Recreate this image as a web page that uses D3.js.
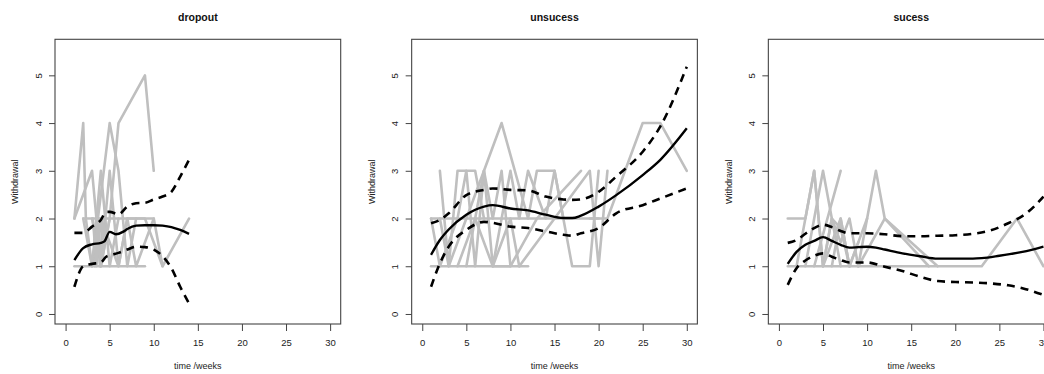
<!DOCTYPE html>
<html><head><meta charset="utf-8">
<script src="https://cdn.jsdelivr.net/npm/d3@7"></script>
<style>body{margin:0;background:#fff}svg{display:block}text{font-family:"Liberation Sans",Arial,Helvetica,sans-serif}</style>
</head><body><svg id="c" width="1044" height="374"></svg>
<script>
const panelTitles = ["dropout", "unsucess", "sucess"];
const xTicks = [0, 5, 10, 15, 20, 25, 30];
const yTicks = [0, 1, 2, 3, 4, 5];
const xLabel = "time /weeks";
const yLabel = "Withdrawal";

// ---- dropout ----
const dropoutSubjects = [
  [[1,2],[2,4],[2.3,2],[3,1]],
  [[1,2],[3,3],[4,1],[5,2]],
  [[2,2],[3,1],[4,3],[5,1],[6,2]],
  [[1,1],[9,1]],
  [[3,1],[5,4],[6,3],[7,1],[8,2],[9,2],[11,1],[14,2]],
  [[4,1],[5,2],[6,4],[9,5],[10,3]],
  [[2,2],[10,2],[11,1]],
  [[3,2],[4,1],[5,3],[6,1],[7,2],[8,1],[10,2]],
  [[3.3,1],[3.6,2],[3.9,1],[4.2,2]],
  [[3.1,2],[3.5,1],[4,2],[6,1],[7,2],[8,2]]
];
const dropoutMeanT = [1,2,3,4,4.4,5,5.7,6.5,7,8,9,10,11,12,13,14];
const dropoutMean  = [1.13,1.38,1.46,1.49,1.52,1.72,1.67,1.72,1.78,1.85,1.86,1.86,1.85,1.82,1.76,1.68];
const dropoutBandT = [1,2,3,4,4.6,5,6,7,8,9,10,11,12,13,14];
const dropoutUpper = [1.70,1.70,1.83,1.97,2.14,2.14,2.09,2.25,2.32,2.33,2.40,2.46,2.56,2.88,3.23];
const dropoutLower = [0.57,1.00,1.05,1.08,1.20,1.23,1.28,1.35,1.41,1.40,1.35,1.21,0.96,0.57,0.22];

// ---- unsucess ----
const unsucessSubjects = [
  [[1,1],[12,1]],
  [[1,2],[20,2]],
  [[2,3],[3,1],[4,3],[6,3],[7,2]],
  [[1,2],[2,1],[4,2],[5,3],[6,1],[7,3],[8,2],[9,3],[10,1]],
  [[2,2],[3,1],[5,2],[7,3],[8,1],[10,3],[11,2],[12,3],[14,2],[15,3],[17,1],[19,1],[20,3]],
  [[5,1],[7,3],[9,4],[12,2],[13,3],[15,3],[16,2]],
  [[4,1],[6,2],[8,1],[10,2],[11,1]],
  [[8,1],[10,1],[13,2],[18,3]],
  [[11,1],[15,2],[19,3],[20,1],[21,3]],
  [[19,2],[21,2],[25,4],[27,4],[30,3]]
];
const unsucessT     = [1,2,3,5,7,8,10,12,14,16,17,18,20,22,25,27,30];
const unsucessMean  = [1.24,1.55,1.77,2.08,2.25,2.28,2.21,2.17,2.08,2.01,2.01,2.06,2.25,2.49,2.91,3.23,3.89];
const unsucessUpper = [1.90,1.97,2.11,2.49,2.60,2.63,2.60,2.59,2.46,2.40,2.39,2.40,2.56,2.88,3.40,3.93,5.18];
const unsucessLower = [0.57,1.06,1.41,1.76,1.93,1.91,1.83,1.80,1.73,1.66,1.64,1.69,1.80,2.11,2.28,2.42,2.63];

// ---- sucess ----
const sucessSubjects = [
  [[1,2],[3,2],[4,3],[5,1],[6,2],[7,1]],
  [[1,1],[23,1],[27,2],[30,1]],
  [[2,1],[4,3],[5,1],[7,2],[8,1]],
  [[3,1],[5,3],[6,2],[7,1.8],[8,1]],
  [[4,1],[7,3]],
  [[5,1],[6,2],[7,1.5],[8,2],[9,1]],
  [[8,1],[10,2]],
  [[9,1],[11,3],[12,2],[14,1.6],[17,1]],
  [[9,1],[12,2],[18,1]],
  [[6,1],[7,2],[8,1],[9,1.5]]
];
const sucessT     = [1,2,3,4,5,6,7,8,9,10,11,12,14,16,18,20,22,23,25,27,29,30];
const sucessMean  = [1.05,1.30,1.45,1.53,1.61,1.53,1.45,1.39,1.40,1.41,1.39,1.35,1.27,1.21,1.16,1.16,1.16,1.17,1.22,1.28,1.36,1.41];
const sucessBandT = [1,2,3,4,5,6,7,8,10,12,14,16,18,20,22,24,26,28,30];
const sucessUpper = [1.49,1.55,1.68,1.80,1.87,1.82,1.74,1.69,1.69,1.67,1.63,1.63,1.64,1.65,1.68,1.75,1.90,2.10,2.46];
const sucessLower = [0.61,0.96,1.12,1.22,1.27,1.20,1.13,1.08,1.08,0.99,0.90,0.78,0.69,0.67,0.66,0.64,0.60,0.52,0.40];

const panels = [
  {title: panelTitles[0], subj: dropoutSubjects, mT: dropoutMeanT, mean: dropoutMean, bT: dropoutBandT, up: dropoutUpper, lo: dropoutLower},
  {title: panelTitles[1], subj: unsucessSubjects, mT: unsucessT, mean: unsucessMean, bT: unsucessT, up: unsucessUpper, lo: unsucessLower},
  {title: panelTitles[2], subj: sucessSubjects, mT: sucessT, mean: sucessMean, bT: sucessBandT, up: sucessUpper, lo: sucessLower}
];

const svg = d3.select("#c");
const plotTop = 39.3, plotBottom = 324, pw = 285.7, step = 356.67, left0 = 55;

panels.forEach((p, i) => {
  const L = left0 + i * step;
  const x = d3.scaleLinear().domain([-1.2, 31.2]).range([L, L + pw]);
  const y = d3.scaleLinear().domain([-0.21, 5.755]).range([plotBottom, plotTop]);
  const g = svg.append("g");
  const clipId = "clip" + i;
  g.append("clipPath").attr("id", clipId).append("rect")
    .attr("x", L).attr("y", plotTop).attr("width", pw).attr("height", plotBottom - plotTop);
  const data = g.append("g").attr("clip-path", `url(#${clipId})`);
  const lineXY = d3.line().x(d => x(d[0])).y(d => y(d[1]));
  data.selectAll("path.subj").data(p.subj).join("path")
    .attr("d", lineXY).attr("fill", "none").attr("stroke", "#bfbfbf")
    .attr("stroke-width", 2.6).attr("stroke-linejoin", "round").attr("stroke-linecap", "round");
  const smooth = d3.line().x(d => x(d[0])).y(d => y(d[1])).curve(d3.curveMonotoneX);
  data.append("path").attr("d", smooth(p.mT.map((t, k) => [t, p.mean[k]])))
    .attr("fill", "none").attr("stroke", "#000").attr("stroke-width", 2.4);
  [p.up, p.lo].forEach(arr => {
    data.append("path").attr("d", smooth(p.bT.map((t, k) => [t, arr[k]])))
      .attr("fill", "none").attr("stroke", "#000").attr("stroke-width", 2.6)
      .attr("stroke-dasharray", "8,6");
  });
  g.append("rect").attr("x", L).attr("y", plotTop).attr("width", pw).attr("height", plotBottom - plotTop)
    .attr("fill", "none").attr("stroke", "#444").attr("stroke-width", 1.1);
  const ax = g.append("g").attr("transform", `translate(0,${plotBottom})`)
    .call(d3.axisBottom(x).tickValues(xTicks).tickSize(7).tickPadding(8).tickSizeOuter(0));
  ax.select(".domain").remove();
  ax.selectAll("line").attr("stroke", "#444");
  ax.selectAll("text").attr("font-size", 9.5).attr("fill", "#222");
  const ay = g.append("g").attr("transform", `translate(${L},0)`)
    .call(d3.axisLeft(y).tickValues(yTicks).tickSize(6).tickSizeOuter(0));
  ay.select(".domain").remove();
  ay.selectAll("line").attr("stroke", "#444");
  ay.selectAll("text").remove();
  ay.selectAll(".tick").append("text")
    .attr("transform", `translate(${-13.5},0) rotate(-90)`)
    .attr("text-anchor", "middle").attr("font-size", 9.5).attr("fill", "#222").text(d => d);
  g.append("text").attr("x", L + pw / 2).attr("y", 20.5).attr("text-anchor", "middle")
    .attr("font-size", 10.5).attr("font-weight", "bold").attr("fill", "#111").text(p.title);
  g.append("text").attr("x", L + pw / 2).attr("y", 368.5).attr("text-anchor", "middle")
    .attr("font-size", 9).attr("fill", "#222").text(xLabel);
  g.append("text").attr("transform", `translate(${L - 36.7},${(plotTop + plotBottom) / 2}) rotate(-90)`)
    .attr("text-anchor", "middle").attr("font-size", 9).attr("fill", "#222").text(yLabel);
});
</script></body></html>
